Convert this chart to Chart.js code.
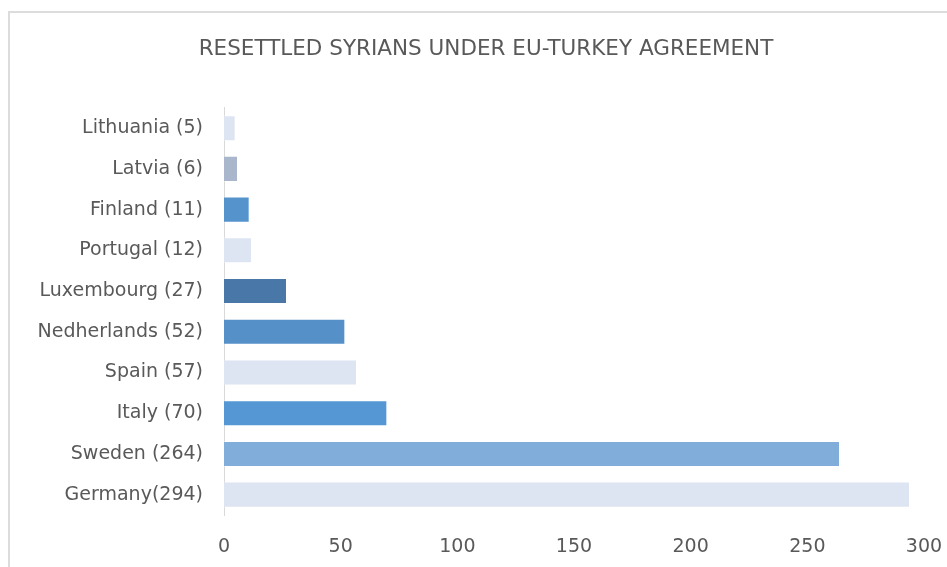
<!DOCTYPE html>
<html>
<head>
<meta charset="utf-8">
<script src="https://cdn.jsdelivr.net/npm/chart.js@4"></script>
<style>
  html, body { margin: 0; padding: 0; background: #fff; overflow: hidden; }
  #frame { position: absolute; left: 8px; top: 11px; width: 1000px; height: 600px; border: 2px solid #dcdcdc; box-sizing: border-box; }
  #wrap { position: absolute; left: 0; top: 0; width: 947px; height: 567px; }
</style>
</head>
<body>
<div id="frame"></div>
<div id="wrap"><canvas id="idCanvas" width="947" height="567"></canvas></div>
<script>
// countries, top to bottom (name keeps its own spacing before the count)
const paesi = ['Lithuania ', 'Latvia ', 'Finland ', 'Portugal ', 'Luxembourg ', 'Nedherlands ', 'Spain ', 'Italy ', 'Sweden ', 'Germany'];
const reinsediati = [5, 6, 11, 12, 27, 52, 57, 70, 264, 294];
const colori = ['#dee5f2', '#a9b6cb', '#5593cc', '#dee5f2', '#4877a8', '#5590c8', '#dee5f2', '#5597d4', '#81addb', '#dee5f2'];
const tickX = [0, 50, 100, 150, 200, 250, 300];

function creaDiagramma() {
    let etichette = paesi.map((p, i) => p + '(' + reinsediati[i] + ')');
    let ctx = document.getElementById('idCanvas').getContext('2d');
    let font = { family: 'DejaVu Sans', size: 19 };
    new Chart(ctx, {
        type: 'bar',
        data: {
            labels: etichette,
            datasets: [{
                data: reinsediati,
                backgroundColor: colori,
                borderColor: 'rgba(255,255,255,0.35)',
                borderWidth: 1,
                barPercentage: 0.8,
                categoryPercentage: 0.8
            }]
        },
        options: {
            indexAxis: 'y',
            responsive: false,
            animation: false,
            layout: { padding: { top: 37, left: 10, right: -15, bottom: 0 } },
            plugins: {
                legend: { display: false },
                tooltip: { enabled: false },
                title: {
                    display: true,
                    text: 'RESETTLED SYRIANS UNDER EU-TURKEY AGREEMENT',
                    color: '#595959',
                    font: { family: 'DejaVu Sans', size: 21.5, weight: 'normal' },
                    padding: { top: 0, bottom: 45 }
                }
            },
            scales: {
                x: {
                    min: 0,
                    max: 300,
                    afterBuildTicks: s => { s.ticks = tickX.map(v => ({ value: v })); },
                    afterFit: s => { s.height = 52; s.paddingRight = 23; },
                    grid: { display: false, drawTicks: false },
                    border: { display: false },
                    ticks: { color: '#595959', font: font, padding: 21, maxRotation: 0 }
                },
                y: {
                    grid: { display: false, drawTicks: false },
                    border: { display: true, color: '#d9d9d9', width: 1 },
                    ticks: { color: '#595959', font: font, padding: 21 },
                    afterFit: s => { s.width = 214; }
                }
            }
        }
    });
}

creaDiagramma();
</script>
</body>
</html>
